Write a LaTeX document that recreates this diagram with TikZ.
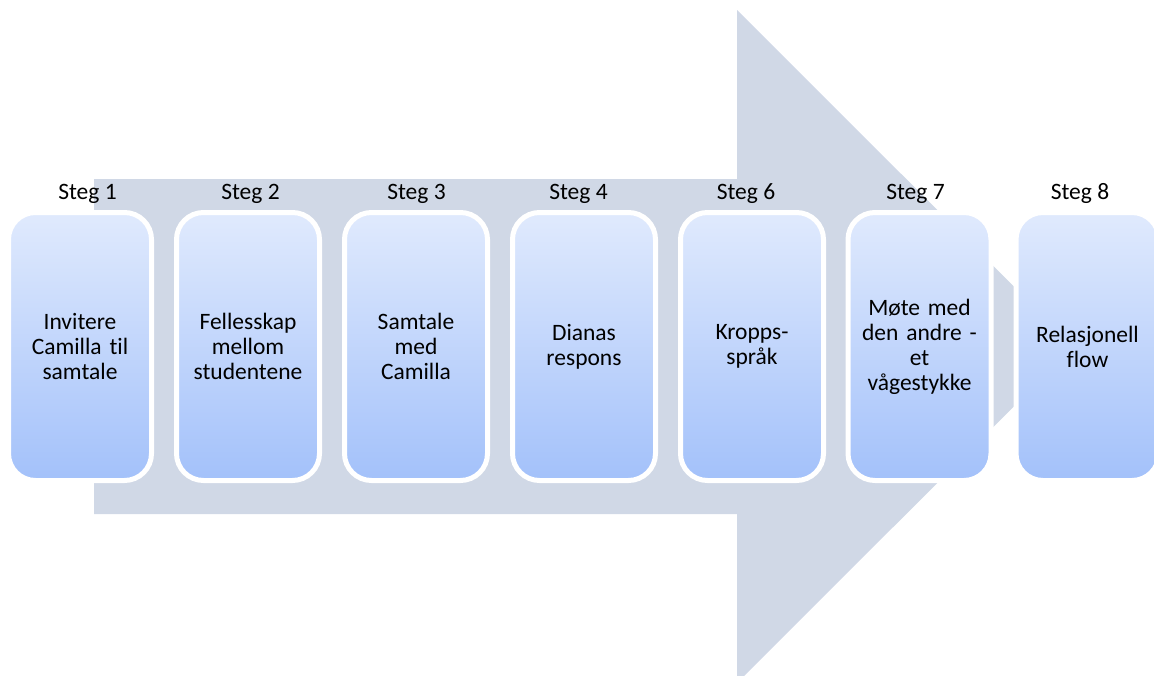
\documentclass[tikz,border=0pt]{standalone}
\usepackage{fontspec}
\setmainfont{Carlito}[Ligatures=NoCommon]
\definecolor{arrowfill}{RGB}{208,216,230}
\definecolor{boxtop}{RGB}{224,234,253}
\definecolor{boxbottom}{RGB}{163,193,250}
\begin{document}
\begin{tikzpicture}[x=1pt,y=-1pt,
  stepbox/.style={draw=white, line width=5pt, rounded corners=27pt,
    top color=boxtop, bottom color=boxbottom,
    minimum width=143pt, minimum height=268pt, inner sep=0pt,
    align=center, text width=135pt, font=\fontsize{23.5}{25}\selectfont},
  steplabel/.style={anchor=base, inner sep=0pt, font=\fontsize{23.5}{25}\selectfont}]
\useasboundingbox (0,0) rectangle (1154,675);
% large background arrow
\fill[arrowfill] (94,179) -- (737,179) -- (737,10) -- (1074,346.5)
  -- (737,683) -- (737,514) -- (94,514) -- cycle;
% step boxes
\node[stepbox] (b1) at (80,346.5) {Invitere\\Camilla til\\samtale};
\node[stepbox] (b2) at (248,346.5) {Fellesskap\\mellom\\studentene};
\node[stepbox] (b3) at (416,346.5) {Samtale\\med\\Camilla};
\node[stepbox] (b4) at (584,346.5) {Dianas\\respons};
\node[stepbox] (b6) at (752,346.5) {Kropps-\\språk};
\node[stepbox] (b7) at (919.5,346.5) {Møte med\\den andre -\\et\\vågestykke};
\node[stepbox] (b8) at (1087.5,346.5) {Relasjonell\\flow};
% step labels
\node[steplabel] (l1) at (87.5,199) {Steg 1};
\node[steplabel] (l2) at (250.5,199) {Steg 2};
\node[steplabel] (l3) at (416.5,199) {Steg 3};
\node[steplabel] (l4) at (578.5,199) {Steg 4};
\node[steplabel] (l6) at (746,199) {Steg 6};
\node[steplabel] (l7) at (915.5,199) {Steg 7};
\node[steplabel] (l8) at (1080,199) {Steg 8};
\end{tikzpicture}
\end{document}
